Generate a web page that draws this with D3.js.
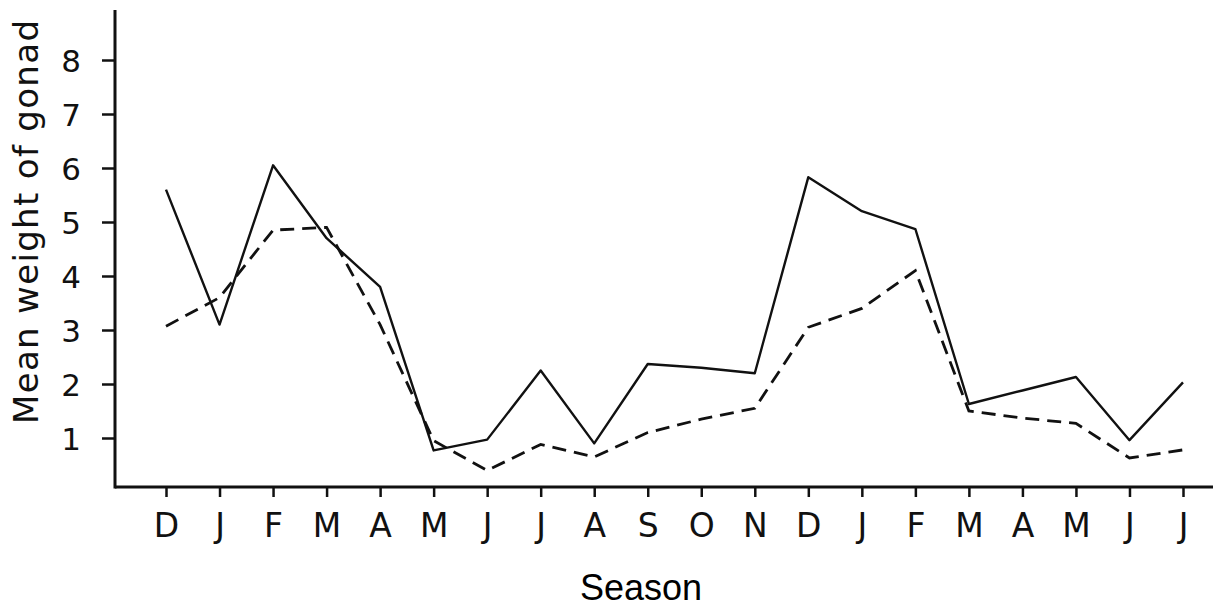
<!DOCTYPE html>
<html>
<head>
<meta charset="utf-8">
<script src="https://cdn.jsdelivr.net/npm/d3@7"></script>
<style>
  body { margin: 0; background: #fff; }
  svg { display: block; }
</style>
</head>
<body>
<div id="chart"></div>
<script>
// months on the x axis (Dec through Jul of the following year and a half)
var months = ["D", "J", "F", "M", "A", "M", "J", "J", "A", "S", "O", "N",
              "D", "J", "F", "M", "A", "M", "J", "J"];

// solid line
var solidValues = [5.6, 3.1, 6.05, 4.7, 3.8, 0.77, 0.97, 2.25, 0.9, 2.37, 2.3, 2.2,
                   5.83, 5.2, 4.87, 1.63, 1.88, 2.13, 0.96, 2.03];

// dashed line
var dashedValues = [3.07, 3.6, 4.85, 4.9, 3.1, 0.95, 0.4, 0.88, 0.65, 1.1, 1.35, 1.55,
                    3.05, 3.4, 4.1, 1.5, 1.37, 1.27, 0.63, 0.78];

var yTicks = [1, 2, 3, 4, 5, 6, 7, 8];

var svgWidth = 1223;
var svgHeight = 609;

var svg = d3.select("#chart")
    .append("svg")
    .attr("width", svgWidth)
    .attr("height", svgHeight);

// scales
var x = d3.scalePoint()
    .domain(d3.range(months.length))
    .range([166, 1183]);

var y = d3.scaleLinear()
    .domain([1, 8])
    .range([438, 60]);

var axisX = 115;
var axisY = 487;

// y axis
var yAxis = d3.axisLeft(y)
    .tickValues(yTicks)
    .tickFormat(d3.format("d"))
    .tickSize(13)
    .tickSizeOuter(0);

var gy = svg.append("g")
    .attr("transform", `translate(${axisX},0)`)
    .call(yAxis);

gy.select(".domain").remove();
gy.selectAll(".tick line").attr("stroke", "#111").attr("stroke-width", 2.5);
gy.selectAll(".tick text")
    .attr("x", -44)
    .attr("dy", "0.36em")
    .attr("text-anchor", "middle")
    .attr("font-family", "DejaVu Sans")
    .attr("font-size", 31)
    .attr("fill", "#111");

svg.append("line")
    .attr("x1", axisX).attr("x2", axisX)
    .attr("y1", 10).attr("y2", axisY + 1.5)
    .attr("stroke", "#111")
    .attr("stroke-width", 3);

// x axis
var xAxis = d3.axisBottom(x)
    .tickSize(10)
    .tickSizeOuter(0)
    .tickFormat(i => months[i]);

var gx = svg.append("g")
    .attr("transform", `translate(0,${axisY})`)
    .call(xAxis);

gx.select(".domain").remove();
gx.selectAll(".tick line").attr("stroke", "#111").attr("stroke-width", 2.5);
gx.selectAll(".tick text")
    .attr("y", 50)
    .attr("dy", 0)
    .attr("font-family", "DejaVu Sans")
    .attr("font-size", 33)
    .attr("fill", "#111");

svg.append("line")
    .attr("x1", axisX).attr("x2", 1213)
    .attr("y1", axisY).attr("y2", axisY)
    .attr("stroke", "#111")
    .attr("stroke-width", 3);

// lines
var line = d3.line()
    .x((d, i) => x(i))
    .y(d => y(d));

svg.append("path")
    .datum(solidValues)
    .attr("d", line)
    .attr("fill", "none")
    .attr("stroke", "#111")
    .attr("stroke-width", 2.4)
    .attr("stroke-linejoin", "round");

svg.append("path")
    .datum(dashedValues)
    .attr("d", line)
    .attr("fill", "none")
    .attr("stroke", "#111")
    .attr("stroke-width", 2.8)
    .attr("stroke-dasharray", "14,8");

// axis titles
svg.append("text")
    .attr("transform", "translate(38,222) rotate(-90)")
    .attr("text-anchor", "middle")
    .attr("font-family", "DejaVu Sans")
    .attr("font-size", 34)
    .attr("textLength", 404)
    .attr("lengthAdjust", "spacing")
    .attr("fill", "#111")
    .text("Mean weight of gonad");

svg.append("text")
    .attr("x", 641)
    .attr("y", 600)
    .attr("text-anchor", "middle")
    .attr("font-family", "Liberation Sans")
    .attr("font-size", 36)
    .attr("fill", "#000")
    .text("Season");
</script>
</body>
</html>
